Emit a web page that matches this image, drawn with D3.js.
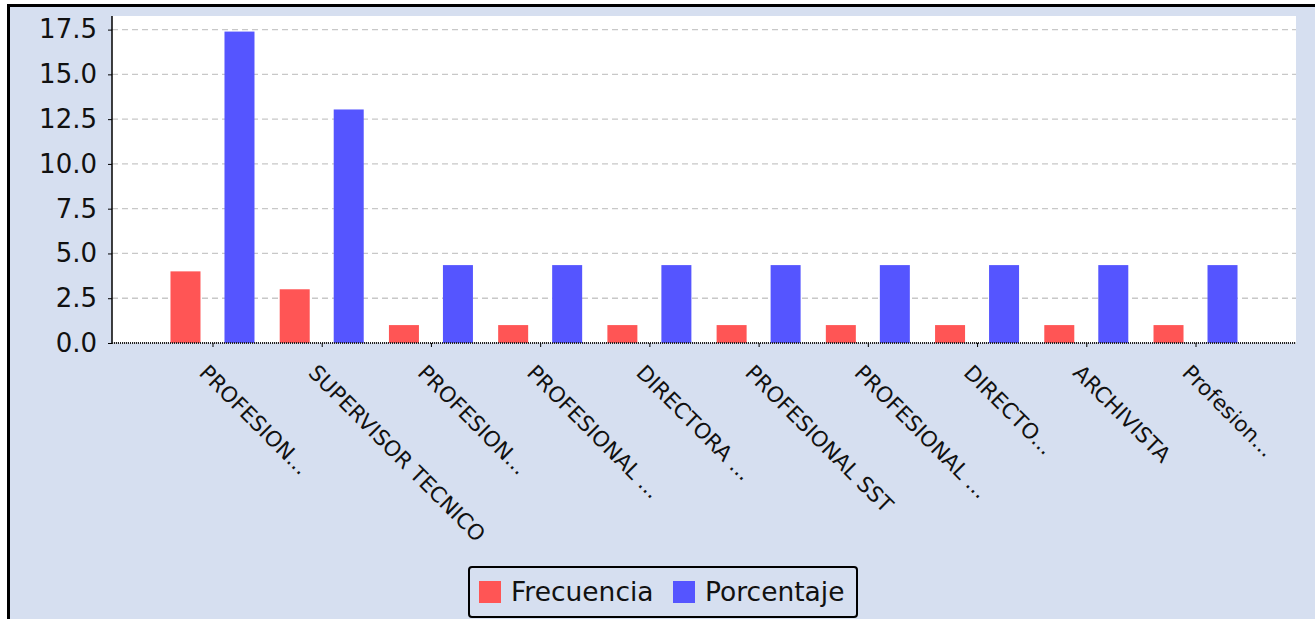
<!DOCTYPE html>
<html><head><meta charset="utf-8">
<script src="https://cdn.jsdelivr.net/npm/d3@7"></script>
<style>body{margin:0;background:#fff;overflow:hidden}svg{display:block}text{font-family:"DejaVu Sans",sans-serif}</style>
</head><body>
<svg id="chart" width="1315" height="619"></svg>
<script>
const categories = ["PROFESION...","SUPERVISOR TECNICO","PROFESION...","PROFESIONAL ...","DIRECTORA ...","PROFESIONAL SST","PROFESIONAL ...","DIRECTO...","ARCHIVISTA","Profesion..."];
const frecuencia = [4,3,1,1,1,1,1,1,1,1];
const porcentaje = [17.39,13.04,4.35,4.35,4.35,4.35,4.35,4.35,4.35,4.35];
const seriesNames = ["Frecuencia","Porcentaje"];
const seriesColors = ["#ff5555","#5555ff"];
const yTicks = [0,2.5,5,7.5,10,12.5,15,17.5];

const svg = d3.select("#chart");
// frame
svg.append("rect").attr("x",8.5).attr("y",5.5).attr("width",1320).attr("height",630)
  .attr("fill","#d6dff0").attr("stroke","#000").attr("stroke-width",3);

const L=112,R=1296,T=16,B=343;
svg.append("rect").attr("x",L).attr("y",T).attr("width",R-L).attr("height",B-T).attr("fill","#fff");

const x = d3.scalePoint().domain(categories.map((c,i)=>i)).range([L,R]).padding(0.92);
const y = d3.scaleLinear().domain([0, d3.max(porcentaje)*1.05]).range([B,T]);

// grid
svg.append("g").selectAll("line").data(yTicks).join("line")
  .attr("x1",L).attr("x2",R).attr("y1",d=>y(d)).attr("y2",d=>y(d))
  .attr("stroke","#c8c8c8").attr("stroke-width",1.3).attr("stroke-dasharray","6,4");

const bw = 30, off = 27;
const data = categories.map((c,i)=>({i, v:[frecuencia[i], porcentaje[i]]}));
seriesNames.forEach((s,k)=>{
  svg.append("g").selectAll("rect").data(data).join("rect")
    .attr("x",d=>x(d.i)+(k===0?-off:off)-bw/2)
    .attr("y",d=>y(d.v[k]))
    .attr("width",bw)
    .attr("height",d=>B-y(d.v[k]))
    .attr("fill",seriesColors[k]);
});

// y axis
const yAxis = d3.axisLeft(y).tickValues(yTicks).tickFormat(d3.format(".1f")).tickSize(4).tickPadding(11);
const ya = svg.append("g").attr("transform",`translate(${L},0)`).call(yAxis);
ya.select(".domain").attr("d",`M0,${T}V${B}`).attr("stroke","#000").attr("stroke-width",1.5);
ya.selectAll(".tick line").attr("stroke","#000");
ya.selectAll(".tick text").attr("font-size",26).attr("fill","#111").style("font-family","DejaVu Sans");

// x axis
const xAxis = d3.axisBottom(x).tickFormat(i=>categories[i]).tickSize(4).tickPadding(0);
const xa = svg.append("g").attr("transform",`translate(0,${B})`).call(xAxis);
xa.select(".domain").attr("d",`M${L},0H${R}`).attr("stroke","#222").attr("stroke-width",2).attr("stroke-dasharray","1,1");
xa.selectAll(".tick line").attr("stroke","#000");
xa.selectAll(".tick text").attr("font-size",21.5).attr("fill","#111").style("font-family","DejaVu Sans")
  .attr("text-anchor","start").attr("dy",0).attr("y",0)
  .attr("transform","translate(-15,31) rotate(45)");

// legend
const lg = svg.append("g");
lg.append("rect").attr("x",469).attr("y",567).attr("width",388).attr("height",50).attr("rx",3)
  .attr("fill","#d6dff0").attr("stroke","#000").attr("stroke-width",2);
const lx=[479,673];
seriesNames.forEach((s,k)=>{
  lg.append("rect").attr("x",lx[k]).attr("y",581).attr("width",22).attr("height",22).attr("fill",seriesColors[k]);
  lg.append("text").attr("x",lx[k]+32).attr("y",601).attr("font-size",26.5).attr("fill","#111").text(s);
});
</script>
</body></html>
